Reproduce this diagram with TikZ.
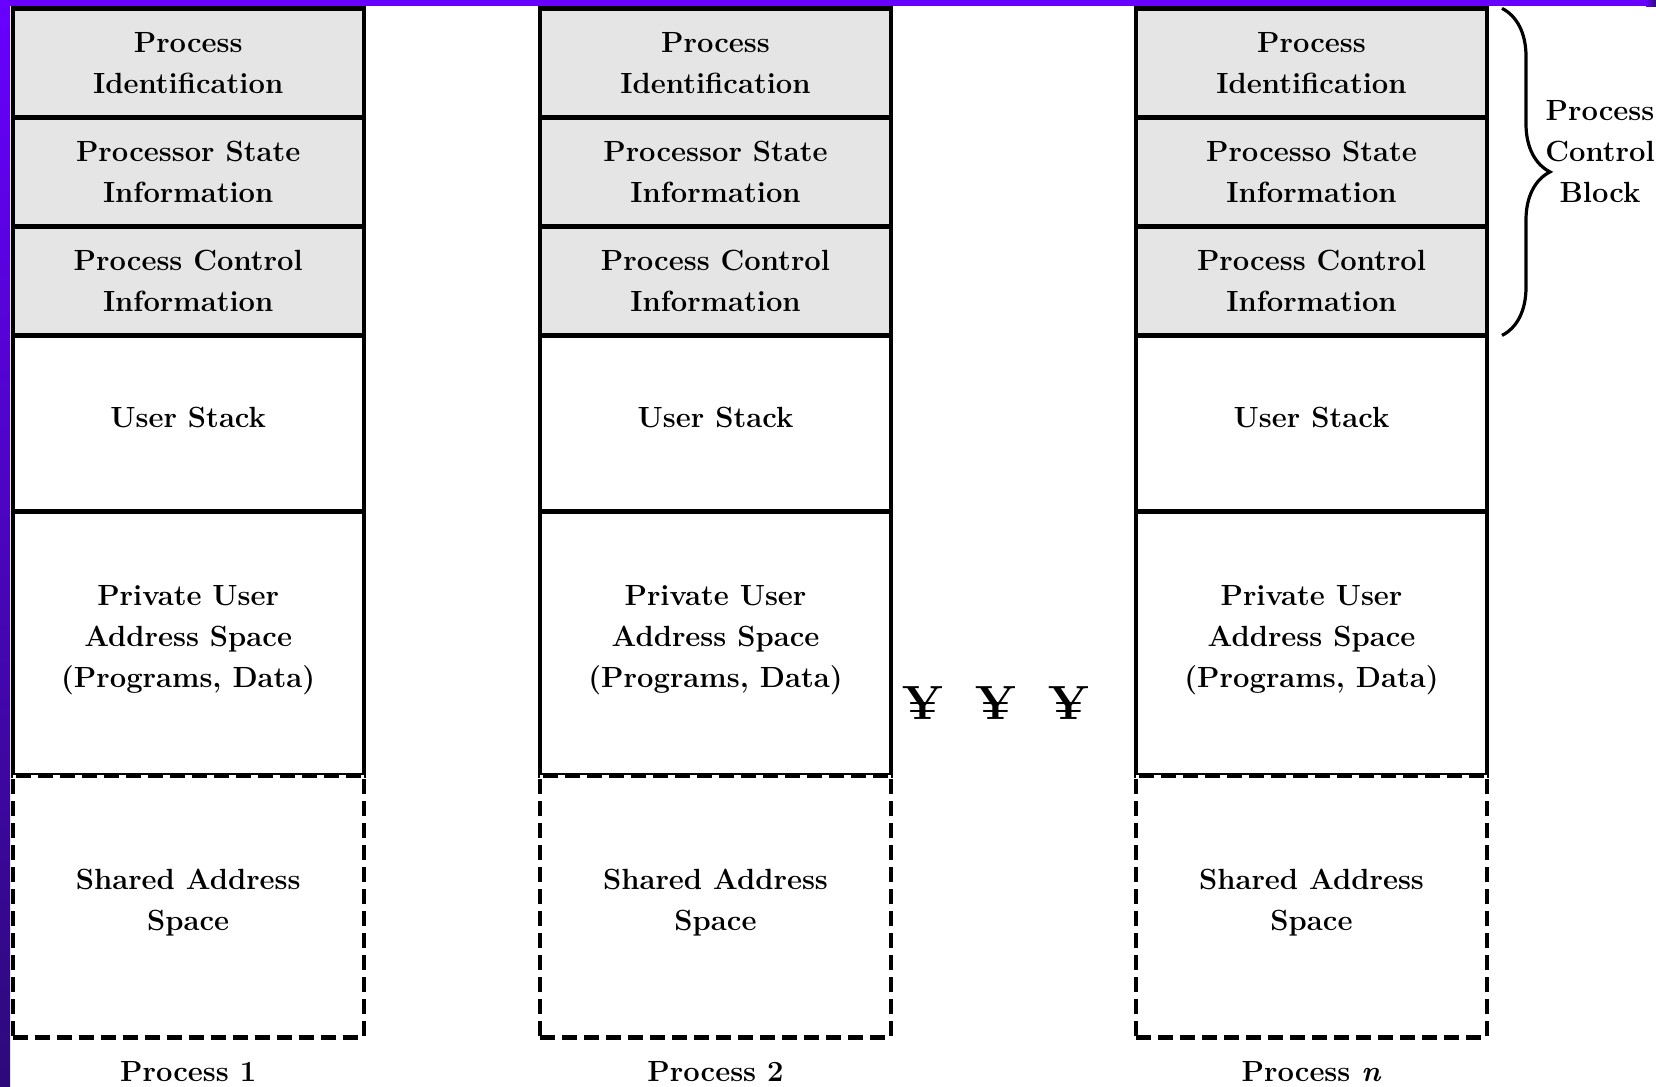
\documentclass[tikz,border=0pt]{standalone}
\usepackage{xcolor}
\usepackage{tikz}
\usetikzlibrary{positioning,decorations.pathreplacing}
\definecolor{pcbgrey}{HTML}{E5E5E5}
\definecolor{framepurple}{RGB}{104,0,255}
\definecolor{framedark}{RGB}{44,10,122}
\tikzset{>=latex}

\begin{document}
\begin{tikzpicture}[
cellfont/.style={font=\fontsize{14.6pt}{20.5pt}\selectfont\bfseries},
pcbcell/.style={rectangle, draw=black, fill=pcbgrey, line width=2.2pt, minimum width=175.5pt, minimum height=54.5pt, align=center, inner sep=0pt, outer sep=0pt, cellfont},
memcell/.style={pcbcell, fill=white, text depth=6.5pt},
sharedcell/.style={memcell, dash pattern=on 7.5pt off 3.5pt},
proclabel/.style={inner sep=0pt, cellfont},
dotsmark/.style={inner sep=0pt, font=\fontsize{24pt}{24pt}\selectfont\bfseries},
]
\useasboundingbox (0,0) rectangle (828pt,-543.5pt);
%Frame
\fill[framepurple] (0,0) rectangle (823pt,-3pt);
\shade[left color=framepurple, right color=framedark] (823pt,0) rectangle (828pt,-3pt);
\shade[top color=framepurple, bottom color=framedark] (0,0) rectangle (5pt,-543.5pt);
%Columns
\foreach \n/\x/\pst/\num in {1/6.35/Processor/1, 2/270/Processor/2, 3/568/Processo/\textit{n}}{
  \node[pcbcell, anchor=north west](pid\n) at (\x pt,-4.2pt){Process\\Identification};
  \node[pcbcell](psi\n)[below=0pt of pid\n]{\pst{} State\\Information};
  \node[pcbcell](pci\n)[below=0pt of psi\n]{Process Control\\Information};
  \node[memcell, minimum height=88pt](stack\n)[below=0pt of pci\n]{User Stack};
  \node[memcell, minimum height=132pt](priv\n)[below=0pt of stack\n]{Private User\\Address Space\\(Programs, Data)};
  \node[sharedcell, minimum height=131pt](shared\n)[below=0pt of priv\n]{Shared Address\\Space};
  \node[proclabel](proc\n)[below=12pt of shared\n]{Process \num};
}
%Dots between columns
\node[dotsmark](dotsA) at ([xshift=16pt,yshift=-30pt]priv2.east){¥};
\node[dotsmark](dotsB) at ([xshift=36.5pt]dotsA){¥};
\node[dotsmark](dotsC) at ([xshift=36.5pt]dotsB){¥};
%Brace
\draw[line width=1.6pt, decorate, decoration={brace, amplitude=24pt}]
  ([xshift=7.5pt]pid3.north east) -- ([xshift=7.5pt]pci3.south east);
\node[proclabel, align=center](pcblbl) at ([xshift=56.5pt,yshift=10pt]psi3.east){Process\\Control\\Block};
\end{tikzpicture}
\end{document}
